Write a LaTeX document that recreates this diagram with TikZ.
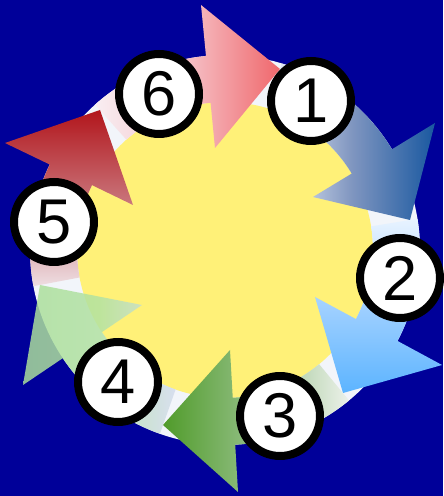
\documentclass[tikz,border=0pt]{standalone}
\usepackage{fontspec}
\setmainfont{Liberation Sans}
\usepackage{tikz}

\definecolor{bgblue}{RGB}{0,0,153}
\definecolor{sunyellow}{RGB}{255,241,120}
\definecolor{ringwhite}{RGB}{242,245,250}
\definecolor{pinkA}{RGB}{248,238,242}
\definecolor{pinkB}{RGB}{245,192,198}
\definecolor{pinkC}{RGB}{240,104,108}
\definecolor{blueA}{RGB}{242,246,252}
\definecolor{blueB}{RGB}{128,150,192}
\definecolor{blueC}{RGB}{25,88,160}
\definecolor{skyA}{RGB}{232,243,255}
\definecolor{skyB}{RGB}{160,208,255}
\definecolor{skyC}{RGB}{92,180,255}
\definecolor{greenA}{RGB}{80,155,42}
\definecolor{greenB}{RGB}{148,192,135}
\definecolor{greenC}{RGB}{236,241,234}
\definecolor{mintA}{RGB}{170,222,155}
\definecolor{mintB}{RGB}{178,226,162}
\definecolor{mintC}{RGB}{212,220,238}
\definecolor{redA}{RGB}{178,22,28}
\definecolor{redB}{RGB}{200,112,118}
\definecolor{redC}{RGB}{238,222,226}

\newcommand{\ringout}{3.9cm}
\newcommand{\ringin}{2.96cm}
% band from angle #2 to #3, then head: outer base #4, tip #5, inner base #6
\newcommand{\ringarrow}[6]{%
  \path[#1] ([shift={(c)}]#2:\ringout) arc[start angle=#2, end angle=#3, radius=\ringout]
    -- #4 -- #5 -- #6 -- ([shift={(c)}]#3:\ringin)
    arc[start angle=#3, end angle=#2, radius=\ringin] -- cycle;}

\begin{document}
\begin{tikzpicture}[
    x=0.02cm, y=0.02cm,
    numcirc/.style={circle, draw=black, fill=white, line width=0.16cm,
      minimum size=1.6cm, inner sep=0pt, font=\fontsize{36}{36}\selectfont},
  ]
    \fill[bgblue] (0,0) rectangle (443,496);
    \coordinate (c) at (225,246);

    \fill[ringwhite] (c) circle[radius=\ringout];
    \fill[sunyellow] (c) circle[radius=\ringin];

    \ringarrow{left color=pinkA, right color=pinkC, middle color=pinkB}{131.8}{95.6}{(201,491)}{(280,427)}{(215,348)}
    \ringarrow{left color=blueA, right color=blueC, middle color=blueB}{73.1}{31.1}{(435,373)}{(410,276)}{(313,299)}
    \ringarrow{top color=skyA, bottom color=skyC, middle color=skyB}{9.2}{-27.8}{(442,131)}{(343,103)}{(315,199)}
    \ringarrow{left color=greenA, right color=greenC, middle color=greenB}{-50.5}{-87}{(238,4)}{(163,71)}{(230,146)}
    \ringarrow{left color=mintA, right color=mintC, middle color=mintB, opacity=0.85}{-109.5}{-146.3}{(23,111)}{(40,211)}{(142,191)}
    \ringarrow{top color=redA, bottom color=redC, middle color=redB}{190.7}{154}{(5,353)}{(100,386)}{(133,291)}

    \node[numcirc] (n1) at (311,395) {1};
    \node[numcirc] (n2) at (400,218) {2};
    \node[numcirc] (n3) at (280,80) {3};
    \node[numcirc] (n4) at (118,114) {4};
    \node[numcirc] (n5) at (54,274) {5};
    \node[numcirc] (n6) at (159,402) {6};
  \end{tikzpicture}
\end{document}
